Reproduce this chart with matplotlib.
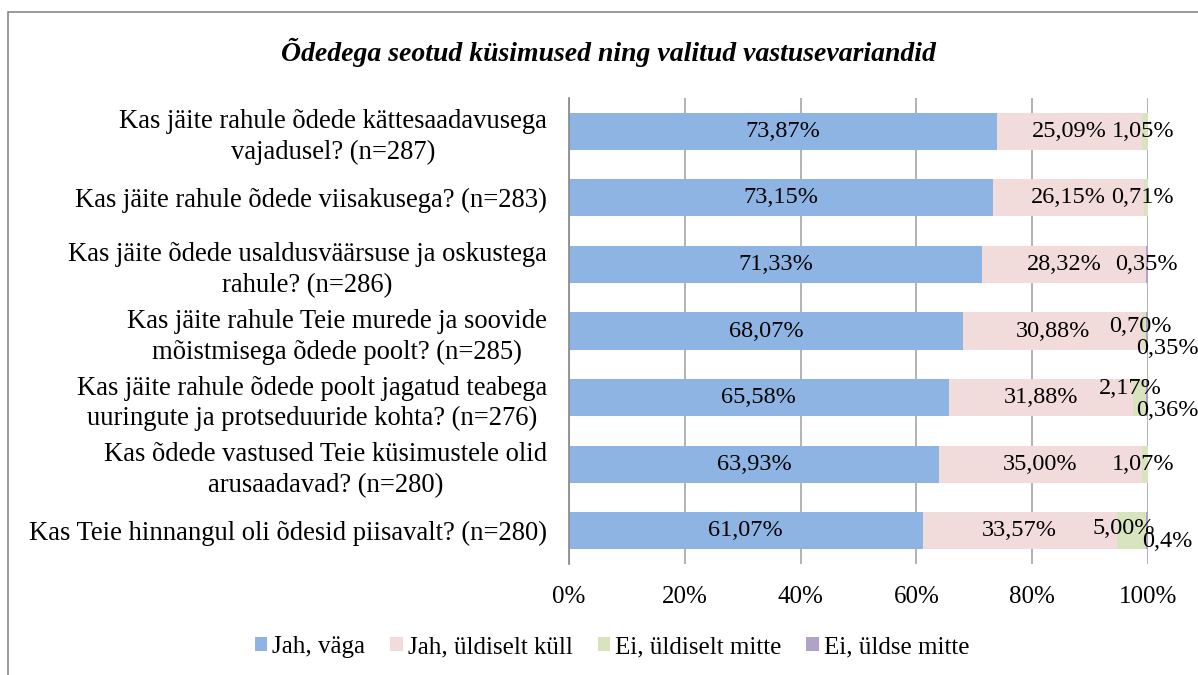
import matplotlib.pyplot as plt
from matplotlib.patches import Rectangle

questions = [
    "Kas jäite rahule õdede kättesaadavusega\nvajadusel? (n=287)",
    "Kas jäite rahule õdede viisakusega? (n=283)",
    "Kas jäite õdede usaldusväärsuse ja oskustega\nrahule? (n=286)",
    "Kas jäite rahule Teie murede ja soovide\nmõistmisega õdede poolt? (n=285)",
    "Kas jäite rahule õdede poolt jagatud teabega\nuuringute ja protseduuride kohta? (n=276)",
    "Kas õdede vastused Teie küsimustele olid\narusaadavad? (n=280)",
    "Kas Teie hinnangul oli õdesid piisavalt? (n=280)",
]
jah_vaga = [73.87, 73.15, 71.33, 68.07, 65.58, 63.93, 61.07]
jah_yldiselt = [25.09, 26.15, 28.32, 30.88, 31.88, 35.00, 33.57]
ei_yldiselt = [1.05, 0.71, 0.0, 0.70, 2.17, 1.07, 5.00]
ei_yldse = [0.0, 0.0, 0.35, 0.35, 0.36, 0.0, 0.36]
series_names = ["Jah, väga", "Jah, üldiselt küll", "Ei, üldiselt mitte", "Ei, üldse mitte"]
colors = ["#8EB4E3", "#F2DCDB", "#D7E4BD", "#B3A2C7"]

# label text for small segments (as printed in the source)
small_labels = {
    (0, 2): "1,05%", (1, 2): "0,71%", (2, 3): "0,35%",
    (3, 2): "0,70%", (3, 3): "0,35%", (4, 2): "2,17%", (4, 3): "0,36%",
    (5, 2): "1,07%", (6, 2): "5,00%", (6, 3): "0,4%",
}
# where the small labels sit (x in %, y offset in bar units)
small_pos = {
    (0, 2): (99.1, 0), (1, 2): (99.1, 0), (2, 3): (99.7, 0),
    (3, 2): (98.6, -0.07), (3, 3): (103.3, 0.26), (4, 2): (96.9, -0.14), (4, 3): (103.4, 0.19),
    (5, 2): (99.1, 0), (6, 2): (95.8, -0.04), (6, 3): (103.4, 0.16),
}

plt.rcParams["font.family"] = ["Liberation Serif", "DejaVu Serif"]

fig = plt.figure(figsize=(11.98, 6.75), dpi=100)
ax = fig.add_axes([569 / 1198, 1 - 564 / 675, 579 / 1198, 466 / 675])

fig.patches.append(Rectangle((8 / 1198, -0.01), 1.01, 1 - 12 / 675 + 0.01, transform=fig.transFigure,
                             fill=False, edgecolor="#888888", linewidth=1.2, zorder=0))

ypos = list(range(len(questions)))
data = [jah_vaga, jah_yldiselt, ei_yldiselt, ei_yldse]
left = [0.0] * len(questions)
for s, (vals, name, col) in enumerate(zip(data, series_names, colors)):
    ax.barh(ypos, vals, left=left, height=0.56, color=col, label=name, zorder=2)
    for i, v in enumerate(vals):
        if s < 2:
            ax.text(left[i] + v / 2, i, f"{v:.2f}%".replace(".", ","), ha="center", va="center",
                    fontsize=17.5, zorder=3)
        elif (i, s) in small_labels:
            x, dy = small_pos[(i, s)]
            ax.text(x, i + dy, small_labels[(i, s)], ha="center", va="center", fontsize=17.5,
                    zorder=3, clip_on=False)
    left = [l + v for l, v in zip(left, vals)]

ax.set_xlim(0, 100)
ax.set_ylim(len(questions) - 0.5, -0.5)
ax.set_xticks([0, 20, 40, 60, 80, 100])
ax.set_xticklabels(["0%", "20%", "40%", "60%", "80%", "100%"], fontsize=18)
ax.set_yticks(ypos)
ax.set_yticklabels(questions, fontsize=19.2, ha="right", multialignment="center", linespacing=1.3)
ax.tick_params(axis="x", length=0, pad=16)
ax.tick_params(axis="y", length=0, pad=16)
ax.grid(axis="x", color="#A6A6A6", linewidth=1.2, zorder=1)
for side in ["top", "right", "bottom"]:
    ax.spines[side].set_visible(False)
ax.spines["left"].set_color("#868686")
ax.spines["left"].set_linewidth(1.2)
ax.spines["left"].set_zorder(4)

fig.text(608 / 1198, 1 - 52 / 675, "Õdedega seotud küsimused ning valitud vastusevariandid",
         ha="center", va="center", fontsize=20, fontweight="bold", fontstyle="italic")

fig.legend(loc="center", bbox_to_anchor=(612 / 1198, 1 - 647 / 675), ncol=4, frameon=False,
           fontsize=18, handlelength=0.5, handleheight=0.5, handletextpad=0.2, columnspacing=1.0)

fig.savefig("out.png", dpi=100)
